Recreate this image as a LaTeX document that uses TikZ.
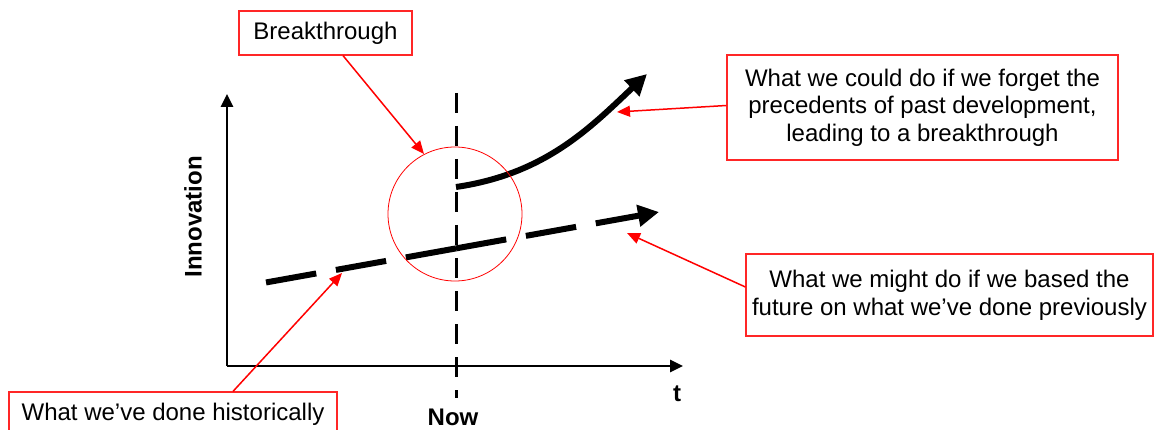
\documentclass[tikz,border=0pt]{standalone}
\usepackage{fontspec}
\setmainfont{Liberation Sans}
\usetikzlibrary{arrows.meta}
\begin{document}
\begin{tikzpicture}[x=1pt,y=-1pt,
 lbl/.style={font=\fontsize{24}{27.6}\selectfont},
 bold lbl/.style={font=\fontsize{24}{27.6}\selectfont\bfseries},
 redbox/.style={draw=red!85!white, line width=1.2pt, fill=white, inner sep=0pt, align=center, lbl},
 redarrow/.style={draw=red, line width=1.5pt, -{Triangle[length=13pt,width=11pt]}},
 axisline/.style={line width=2.6pt, -{Triangle[length=13pt,width=12pt]}},
 trend/.style={line width=6pt, -{Triangle[length=21pt,width=21pt]}},
 trenddash/.style={dash pattern=on 51pt off 20pt},
]
\useasboundingbox (0,0) rectangle (1156,430);
% axes
\coordinate (O) at (227,366);
\coordinate (ytop) at (227,94);
\coordinate (xend) at (683,366);
\draw[axisline] (O) -- (ytop);
\draw[axisline] (O) -- (xend);
\node[bold lbl, rotate=90] (inno) at (193,217) {Innovation};
\node[bold lbl] (t) at (677,394) {t};
\node[bold lbl] (now) at (453,417) {Now};
% now line
\coordinate (nowtop) at (456,93);
\coordinate (nowbot) at (456,398);
\draw[line width=3pt, dash pattern=on 20pt off 13pt] (nowtop) -- (nowbot);
% historical trend
\coordinate (mid) at (456,248.4);
\coordinate (hstart) at (263,283);
\coordinate (fend) at (659,212);
\draw[line width=6pt, trenddash] (mid) -- (hstart);
\draw[trend, trenddash] (mid) -- (fend);
% breakthrough curve
\coordinate (cstart) at (456,187);
\coordinate (ctip) at (647,74);
\draw[trend] (cstart) .. controls (545,174) and (590,128) .. (ctip);
% circle
\node[draw=red, line width=0.8pt, circle, minimum size=134pt, inner sep=0pt] (circ) at (455,214) {};
% boxes
\node[redbox, minimum width=173pt, minimum height=44pt] (bt) at (325.5,33) {Breakthrough};
\node[redbox, minimum width=391pt, minimum height=105pt] (b2) at (922.5,107.5) {What we could do if we forget the\\precedents of past development,\\leading to a breakthrough};
\node[redbox, minimum width=407pt, minimum height=82pt] (b3) at (949.5,295) {What we might do if we based the\\future on what we’ve done previously};
\node[redbox, minimum width=328pt, minimum height=44pt] (b4) at (173,414) {What we’ve done historically};
% red arrows
\coordinate (btend) at (424,154);
\coordinate (b2end) at (617,112);
\coordinate (b3end) at (627,233);
\coordinate (b4end) at (342,273);
\draw[redarrow] ([xshift=17.5pt]bt.south) -- (btend);
\draw[redarrow] ([yshift=2pt]b2.west) -- (b2end);
\draw[redarrow] ([yshift=8pt]b3.west) -- (b3end);
\draw[redarrow] ([xshift=60pt]b4.north) -- (b4end);
\end{tikzpicture}
\end{document}
